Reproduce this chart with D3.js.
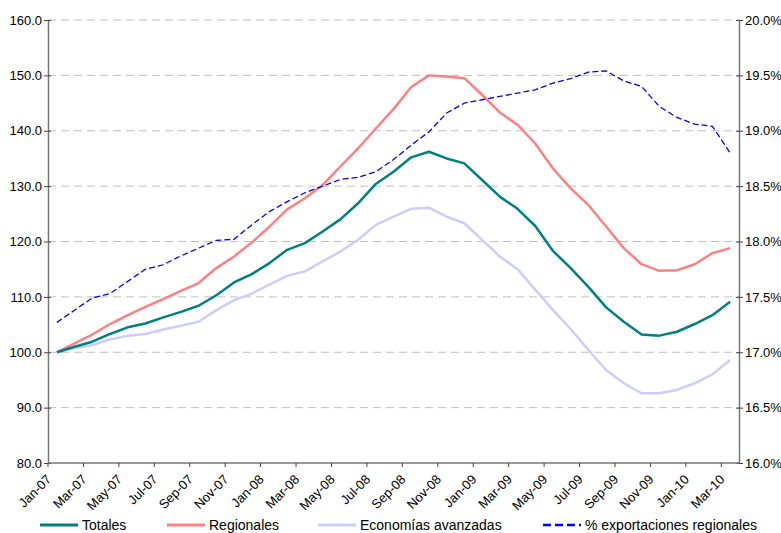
<!DOCTYPE html>
<html>
<head>
<meta charset="utf-8">
<script src="https://cdn.jsdelivr.net/npm/d3@7"></script>
<style>
  html, body { margin: 0; padding: 0; background: #fff; }
  svg { display: block; font-family: "Liberation Sans", Arial, sans-serif; }
</style>
</head>
<body>
<svg id="chart" width="781" height="533"></svg>
<script>
const months = ["Jan-07","Feb-07","Mar-07","Apr-07","May-07","Jun-07","Jul-07","Aug-07","Sep-07","Oct-07","Nov-07","Dec-07",
  "Jan-08","Feb-08","Mar-08","Apr-08","May-08","Jun-08","Jul-08","Aug-08","Sep-08","Oct-08","Nov-08","Dec-08",
  "Jan-09","Feb-09","Mar-09","Apr-09","May-09","Jun-09","Jul-09","Aug-09","Sep-09","Oct-09","Nov-09","Dec-09",
  "Jan-10","Feb-10","Mar-10"];
const tickLabels = ["Jan-07","Mar-07","May-07","Jul-07","Sep-07","Nov-07","Jan-08","Mar-08","May-08","Jul-08","Sep-08","Nov-08",
  "Jan-09","Mar-09","May-09","Jul-09","Sep-09","Nov-09","Jan-10","Mar-10"];
const totales = [100.0,101.0,101.9,103.3,104.5,105.2,106.3,107.3,108.4,110.3,112.6,114.1,
  116.1,118.5,119.7,121.8,124.0,126.9,130.4,132.6,135.2,136.2,135.0,134.1,
  131.1,128.1,125.9,122.8,118.3,115.2,111.8,108.1,105.5,103.2,103.0,103.7,
  105.1,106.7,109.1];
const regionales = [100.0,101.6,103.2,105.1,106.7,108.2,109.6,111.1,112.5,115.2,117.3,119.8,
  122.7,125.8,127.8,130.2,133.5,136.8,140.4,143.9,147.9,150.0,149.8,149.5,
  146.5,143.3,141.1,137.7,133.2,129.6,126.6,122.7,118.8,115.9,114.7,114.8,
  115.9,117.9,118.8];
const avanzadas = [100.0,100.7,101.3,102.3,103.0,103.3,104.1,104.8,105.5,107.6,109.4,110.6,
  112.2,113.8,114.6,116.4,118.2,120.3,123.0,124.5,125.9,126.1,124.5,123.3,
  120.3,117.3,115.0,111.3,107.6,104.2,100.4,96.8,94.4,92.6,92.6,93.2,
  94.4,96.0,98.6];
const pctRegional = [17.27,17.38,17.49,17.53,17.64,17.75,17.79,17.87,17.94,18.01,18.02,18.15,
  18.27,18.36,18.44,18.50,18.56,18.58,18.63,18.74,18.87,18.99,19.16,19.25,
  19.28,19.31,19.34,19.37,19.43,19.47,19.53,19.54,19.45,19.40,19.22,19.12,
  19.06,19.04,18.80];
const leftTicks = [80,90,100,110,120,130,140,150,160];
const rightTicks = [16.0,16.5,17.0,17.5,18.0,18.5,19.0,19.5,20.0];
const seriesNames = ["Totales","Regionales","Economías avanzadas","% exportaciones regionales"];
const colors = ["#008080","#FF8080","#CCCCFF","#0000FF"];

const L = 48, R = 739, T = 20, B = 463;
const svg = d3.select("#chart");
const x = d3.scaleBand().domain(months).range([L, R]).padding(0);
const cx = m => x(m) + x.bandwidth() / 2;
const yL = d3.scaleLinear().domain([80, 160]).range([B, T]);
const yR = d3.scaleLinear().domain([16, 20]).range([B, T]);

// gridlines
svg.append("g").selectAll("line").data(leftTicks.filter(v => v > 80)).join("line")
  .attr("x1", L).attr("x2", R).attr("y1", d => yL(d)).attr("y2", d => yL(d))
  .attr("stroke", "#C0C0C0").attr("stroke-width", 1).attr("stroke-dasharray", "8,5");

// left axis
const gl = svg.append("g").attr("transform", `translate(${L},0)`)
  .call(d3.axisLeft(yL).tickValues(leftTicks).tickFormat(d3.format(".1f")).tickSize(4).tickSizeOuter(0));
gl.select(".domain").attr("stroke", "#777").attr("stroke-width", 1.5);
gl.selectAll(".tick line").attr("stroke", "#444").attr("x2", -4).attr("x1", 3);
gl.selectAll(".tick text").attr("font-size", 13).attr("fill", "#000").attr("x", -6).attr("font-family", "Liberation Sans, Arial, sans-serif");

// right axis
const gr = svg.append("g").attr("transform", `translate(${R},0)`)
  .call(d3.axisRight(yR).tickValues(rightTicks).tickFormat(d => d3.format(".1f")(d) + "%").tickSize(4).tickSizeOuter(0));
gr.select(".domain").attr("stroke", "#777").attr("stroke-width", 1.5);
gr.selectAll(".tick line").attr("stroke", "#444").attr("x1", -3).attr("x2", 4);
gr.selectAll(".tick text").attr("font-size", 13).attr("fill", "#000").attr("x", 6).attr("font-family", "Liberation Sans, Arial, sans-serif");

// bottom axis
svg.append("line").attr("x1", L).attr("x2", R).attr("y1", B).attr("y2", B)
  .attr("stroke", "#777").attr("stroke-width", 1.5);
const boundaryIdx = d3.range(0, months.length, 2);
svg.append("g").selectAll("line").data(boundaryIdx).join("line")
  .attr("x1", i => x(months[i])).attr("x2", i => x(months[i]))
  .attr("y1", B).attr("y2", B + 4).attr("stroke", "#444").attr("stroke-width", 1);
svg.append("g").selectAll("text").data(tickLabels).join("text")
  .attr("transform", d => `translate(${cx(d) - 8},${B + 14}) rotate(-45)`)
  .attr("text-anchor", "end").attr("font-size", 13).attr("fill", "#000")
  .attr("dy", "0.35em").text(d => d);

// lines
const lineL = d3.line().x((d, i) => cx(months[i])).y(d => yL(d));
const lineR = d3.line().x((d, i) => cx(months[i])).y(d => yR(d));
svg.append("path").datum(avanzadas).attr("d", lineL).attr("fill", "none")
  .attr("stroke", colors[2]).attr("stroke-width", 2.5).attr("stroke-linejoin", "round");
svg.append("path").datum(regionales).attr("d", lineL).attr("fill", "none")
  .attr("stroke", colors[1]).attr("stroke-width", 2.5).attr("stroke-linejoin", "round");
svg.append("path").datum(totales).attr("d", lineL).attr("fill", "none")
  .attr("stroke", colors[0]).attr("stroke-width", 2.5).attr("stroke-linejoin", "round");
svg.append("path").datum(pctRegional).attr("d", lineR).attr("fill", "none")
  .attr("stroke", colors[3]).attr("stroke-width", 1.3).attr("stroke-dasharray", "6,3");

// legend
const legX = [40, 167, 318, 543];
const lg = svg.append("g");
seriesNames.forEach((name, i) => {
  lg.append("line").attr("x1", legX[i]).attr("x2", legX[i] + 38).attr("y1", 525).attr("y2", 525)
    .attr("stroke", colors[i]).attr("stroke-width", i === 3 ? 2.5 : 3)
    .attr("stroke-dasharray", i === 3 ? "8,4" : null);
  lg.append("text").attr("x", legX[i] + 42).attr("y", 530).attr("font-size", 14).attr("fill", "#000").text(name);
});
</script>
</body>
</html>
